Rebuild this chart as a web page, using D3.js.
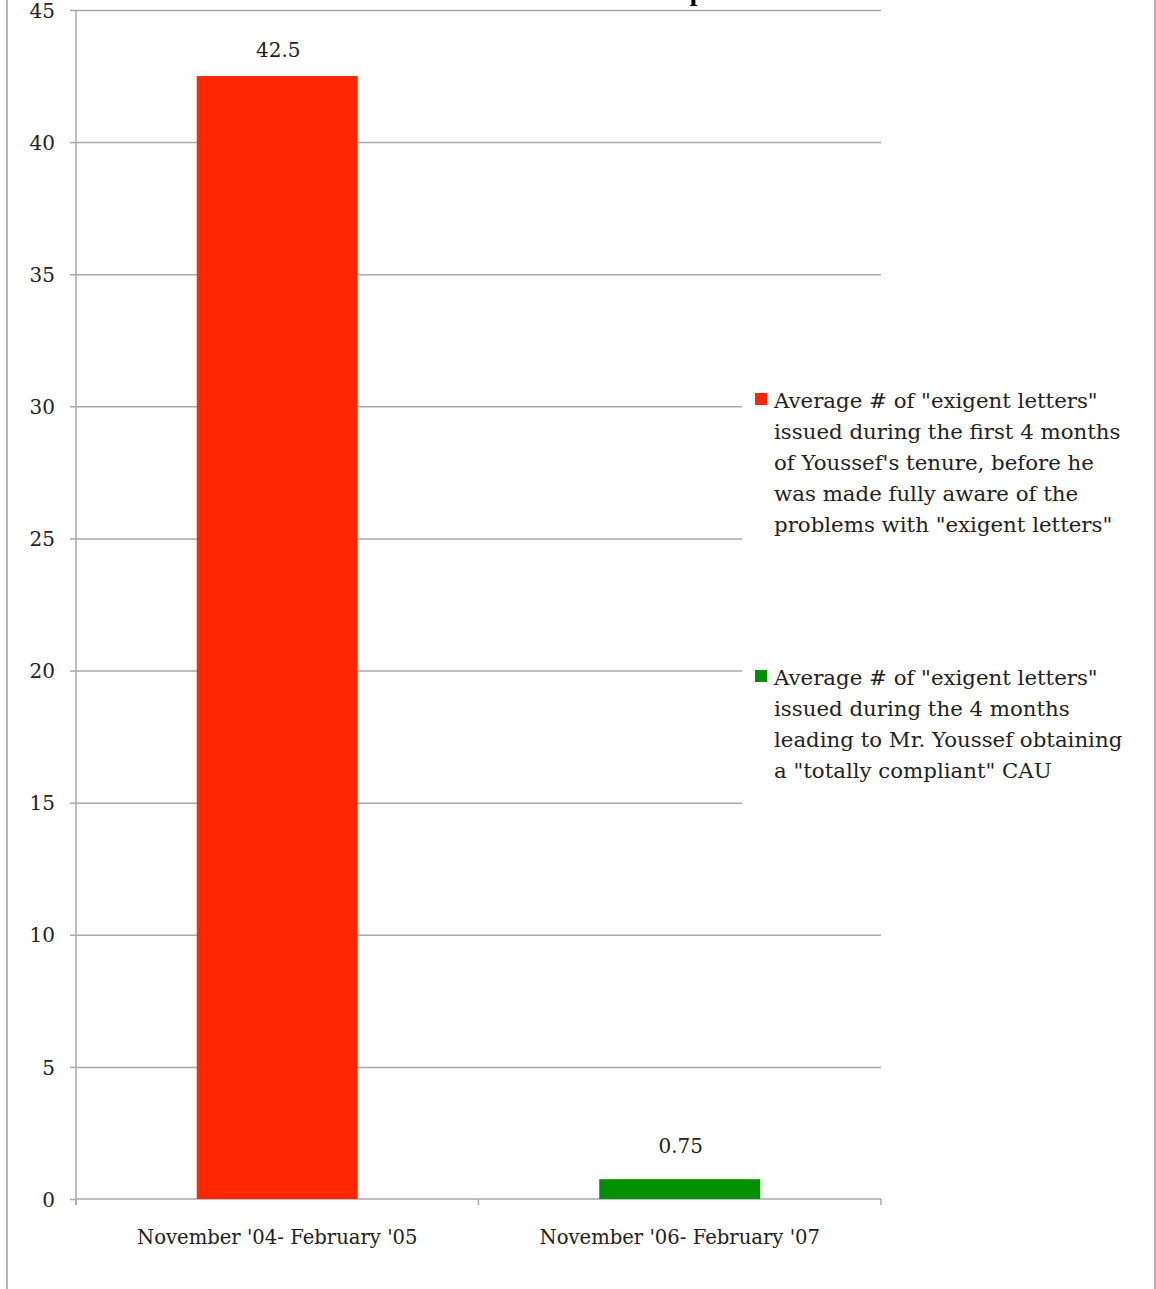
<!DOCTYPE html>
<html>
<head>
<meta charset="utf-8">
<script src="https://cdn.jsdelivr.net/npm/d3@7"></script>
<style>
  html, body { margin: 0; padding: 0; background: #fff; }
  svg { display: block; }
  text { font-family: "DejaVu Serif", "Liberation Serif", serif; fill: #222; }
</style>
</head>
<body>
<svg id="chart" width="1156" height="1289"></svg>
<script>
// Data
const categories = ["November '04- February '05", "November '06- February '07"];
const values = [42.5, 0.75];
const valueLabels = ["42.5", "0.75"];
const seriesColors = ["#ff2600", "#008f00"];
const yTicks = [0, 5, 10, 15, 20, 25, 30, 35, 40, 45];
const legendLines = [
  ['Average # of "exigent letters"', 'issued during the first 4 months', "of Youssef's tenure, before he", 'was made fully aware of the', 'problems with "exigent letters"'],
  ['Average # of "exigent letters"', 'issued during the 4 months', 'leading to Mr. Youssef obtaining', 'a "totally compliant" CAU']
];
const title = "Before and After Compliance";

const svg = d3.select("#chart");
const margin = { left: 76, right: 881, top: 10, bottom: 1199 };
const gridColor = "#a9a9a9";
const serif = "'DejaVu Serif', serif";

const y = d3.scaleLinear().domain([0, 45]).range([margin.bottom, margin.top]);
const x = d3.scaleBand().domain(categories).range([margin.left, margin.right])
  .paddingInner(0.6).paddingOuter(0.3);

// Page frame
svg.append("line").attr("x1", 7).attr("x2", 7).attr("y1", 0).attr("y2", 1289)
  .attr("stroke", "#b5b5b5").attr("stroke-width", 2);
svg.append("line").attr("x1", 1155).attr("x2", 1155).attr("y1", 0).attr("y2", 1289)
  .attr("stroke", "#b5b5b5").attr("stroke-width", 2);

// Title, sitting above the top edge of the page
svg.append("text").attr("x", 435).attr("y", 0)
  .attr("font-size", 27).attr("font-weight", "bold")
  .style("font-family", "'Liberation Serif', serif").style("fill", "#000")
  .text(title);

// Horizontal gridlines
svg.append("g").selectAll("line").data(yTicks.filter(d => d > 0)).join("line")
  .attr("x1", margin.left).attr("x2", margin.right)
  .attr("y1", d => y(d) + 0.5).attr("y2", d => y(d) + 0.5)
  .attr("stroke", gridColor).attr("stroke-width", 1.5);

// Y axis
const yAxis = svg.append("g").attr("transform", `translate(${margin.left},0)`)
  .call(d3.axisLeft(y).tickValues(yTicks).tickSize(6).tickPadding(15));
yAxis.select(".domain").attr("stroke", gridColor).attr("stroke-width", 1.5)
  .attr("d", `M0,${margin.top}V${margin.bottom + 6}`);
yAxis.selectAll(".tick line").attr("stroke", gridColor).attr("stroke-width", 1.5);
yAxis.selectAll(".tick text").attr("font-size", 20).attr("dy", "0.36em")
  .style("font-family", serif).style("fill", "#222");

// X axis
const xAxis = svg.append("g").attr("transform", `translate(0,${margin.bottom})`)
  .call(d3.axisBottom(x).tickSize(0).tickPadding(31));
xAxis.select(".domain").attr("stroke", gridColor).attr("stroke-width", 1.5)
  .attr("d", `M${margin.left},0H${margin.right}`);
xAxis.selectAll(".tick text").attr("font-size", 19.6)
  .style("font-family", serif).style("fill", "#222");
// Category separators
const seps = [margin.left, (margin.left + margin.right) / 2, margin.right];
svg.append("g").selectAll("line").data(seps).join("line")
  .attr("x1", d => d).attr("x2", d => d)
  .attr("y1", margin.bottom).attr("y2", margin.bottom + 6)
  .attr("stroke", gridColor).attr("stroke-width", 1.5);

// Legend background hides the gridlines behind it
svg.append("rect").attr("x", 742).attr("y", 384).attr("width", 410).attr("height", 424)
  .attr("fill", "#fff");

// Bars
svg.append("g").selectAll("rect").data(values).join("rect")
  .attr("x", (d, i) => x(categories[i]))
  .attr("width", x.bandwidth())
  .attr("y", d => y(d))
  .attr("height", d => y(0) - y(d))
  .attr("fill", (d, i) => seriesColors[i]);

// Value labels (kept a minimum distance above the baseline)
svg.append("g").selectAll("text").data(values).join("text")
  .attr("x", (d, i) => x(categories[i]) + x.bandwidth() / 2 + 1)
  .attr("y", d => Math.min(y(d) - 19, y(0) - 46))
  .attr("text-anchor", "middle").attr("font-size", 20)
  .text((d, i) => valueLabels[i]);

// Legend
const legendTop = [408, 685];
legendLines.forEach((lines, i) => {
  const g = svg.append("g");
  g.append("rect").attr("x", 755).attr("y", legendTop[i] - 15)
    .attr("width", 12).attr("height", 12).attr("fill", seriesColors[i]);
  g.selectAll("text").data(lines).join("text")
    .attr("x", 774).attr("y", (d, j) => legendTop[i] + j * 31)
    .attr("font-size", 21.3).text(d => d);
});
</script>
</body>
</html>
